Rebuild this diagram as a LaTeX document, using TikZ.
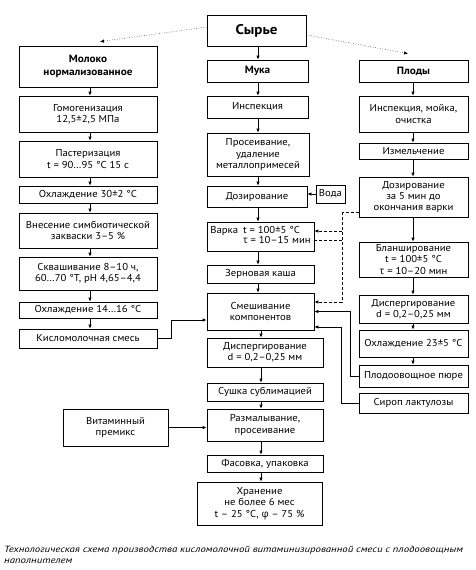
\documentclass[tikz,border=0pt]{standalone}
\usepackage{fontspec}
\setmainfont{PT Sans}[FakeStretch=1.07]
\newfontfamily\captionfont{PT Sans}[FakeStretch=1.2]
\newfontfamily\grk{Open Sans}
\usetikzlibrary{positioning,arrows.meta}
\tikzset{
    stage/.style={
        draw,
        line width=0.7pt,
        align=center,
        inner sep=1pt,
        font=\fontsize{10}{11.3}\selectfont
    },
    leftstage/.style={stage, minimum width=138pt},
    rightstage/.style={stage, minimum width=109pt},
    headstage/.style={font=\fontsize{10.5}{13}\selectfont\bfseries},
    arrow/.style={-{Latex[length=4pt,width=3.4pt]}, line width=0.7pt},
    dasharrow/.style={arrow, dash pattern=on 3pt off 2pt},
    dashline/.style={line width=0.7pt, dash pattern=on 3pt off 2pt},
    dotarrow/.style={-{Latex[length=4pt,width=3.4pt]}, line width=0.5pt, dotted},
    caption/.style={font=\captionfont\fontsize{9}{10.5}\selectfont\itshape, align=left, inner sep=0pt}
}

\begin{document}
\begin{tikzpicture}[x=1pt, y=-1pt]
\useasboundingbox (0,0) rectangle (476,570);

\coordinate (lx) at (90,0);
\coordinate (mx) at (258,0);
\coordinate (mxb) at (261,0);
\coordinate (rx) at (413,0);

\node[stage, minimum width=99pt, minimum height=31pt,
      font=\fontsize{14}{16}\selectfont\bfseries] (raw) at (256.5,30.5)
{Сырье};

% MILK
\node[leftstage, headstage, minimum height=41pt] (milk) at (88,66.5)
{Молоко\\нормализованное};

\node[leftstage, minimum height=36pt] (homog) at (88,114)
{Гомогенизация\\12,5±2,5 МПа};

\node[leftstage, minimum height=36pt] (past) at (88,159)
{Пастеризация\\t = 90…95 °С 15 с};

\node[leftstage, minimum height=17pt] (coolmilk) at (88,194.5)
{Охлаждение 30±2 °С};

\node[leftstage, minimum height=35pt] (starter) at (88,230.5)
{Внесение симбиотической\\закваски 3–5 \%};

\node[leftstage, minimum height=33pt] (ferment) at (88,273.5)
{Сквашивание 8–10 ч,\\60…70 °Т, рН 4,65–4,4};

\node[leftstage, minimum height=16pt] (coolmix) at (88,310)
{Охлаждение 14…16 °С};

\node[leftstage, minimum height=19pt] (sourmix) at (88,338.5)
{Кисломолочная смесь};

\draw[arrow] (milk.south -| lx) -- (homog.north -| lx);
\draw[arrow] (homog.south -| lx) -- (past.north -| lx);
\draw[arrow] (past.south -| lx) -- (coolmilk.north -| lx);
\draw[arrow] (coolmilk.south -| lx) -- (starter.north -| lx);
\draw[arrow] (starter.south -| lx) -- (ferment.north -| lx);
\draw[arrow] (ferment.south -| lx) -- (coolmix.north -| lx);
\draw[arrow] (coolmix.south -| lx) -- (sourmix.north -| lx);

% FLOUR
\node[stage, headstage, minimum width=101pt, minimum height=22pt] (flour) at (257.5,71)
{Мука};

\node[stage, minimum width=101pt, minimum height=22pt] (inspect) at (257.5,107)
{Инспекция};

\node[stage, minimum width=102pt, minimum height=43pt] (sieve) at (258,154.5)
{Просеивание,\\удаление\\металлопримесей};

\node[stage, minimum width=100pt, minimum height=21pt] (dose) at (257,196.5)
{Дозирование};

\node[stage, minimum width=29pt, minimum height=18pt] (water) at (330.5,194)
{Вода};

\node[stage, minimum width=107pt, minimum height=29pt] (boil) at (260.5,236.5)
{\begin{tabular}{@{}l@{\enspace}l@{}}Варка & t = 100±5 °С\\[-1.5pt] & {\grk τ} = 10–15 мин\end{tabular}};

\node[stage, minimum width=107pt, minimum height=18pt] (porridge) at (260.5,274)
{Зерновая каша};

\node[stage, minimum width=107pt, minimum height=37pt] (blend) at (260.5,311.5)
{Смешивание\\компонентов};

\node[stage, minimum width=116pt, minimum height=29pt] (disperse) at (265,352.5)
{Диспергирование\\d = 0,2–0,25 мм};

\node[stage, minimum width=116pt, minimum height=18pt] (dry) at (265,392)
{Сушка сублимацией};

\node[stage, minimum width=116pt, minimum height=32pt] (mill) at (265,425)
{Размалывание,\\просеивание};

\node[stage, minimum width=116pt, minimum height=17pt] (pack) at (265,463.5)
{Фасовка, упаковка};

\node[stage, minimum width=125pt, minimum height=43pt] (store) at (259.5,503.5)
{Хранение\\не более 6 мес\\t – 25 °С, {\grk φ} – 75 \%};

\node[stage, minimum width=105pt, minimum height=37pt] (premix) at (115.5,427.5)
{Витаминный\\премикс};

\draw[arrow] (raw.south -| mx) -- (flour.north -| mx);
\draw[arrow] (flour.south -| mx) -- (inspect.north -| mx);
\draw[arrow] (inspect.south -| mx) -- (sieve.north -| mx);
\draw[arrow] (sieve.south -| mx) -- (dose.north -| mx);
\draw[arrow] (dose.south -| mx) -- (boil.north -| mx);
\draw[arrow] (boil.south -| mx) -- (porridge.north -| mx);
\draw[arrow] (porridge.south -| mx) -- (blend.north -| mx);
\draw[arrow] (blend.south -| mxb) -- (disperse.north -| mxb);
\draw[arrow] (disperse.south -| mxb) -- (dry.north -| mxb);
\draw[arrow] (dry.south -| mxb) -- (mill.north -| mxb);
\draw[arrow] (mill.south -| mxb) -- (pack.north -| mxb);
\draw[arrow] (pack.south -| mxb) -- (store.north -| mxb);

\draw[arrow] (water.west) -- (water.west -| dose.east);
\draw[arrow] (premix.east) -- (premix.east -| mill.west);
\draw[arrow] (sourmix.east) -- ++(14,0) |- ([yshift=-8.5pt]blend.west);

% FRUIT
\node[rightstage, headstage, minimum height=22pt] (fruit) at (413.5,71)
{Плоды};

\node[rightstage, minimum height=36pt] (wash) at (413.5,114)
{Инспекция, мойка,\\очистка};

\node[rightstage, minimum height=16pt] (chop) at (413.5,151)
{Измельчение};

\node[rightstage, minimum height=40pt] (fdose) at (413.5,197)
{Дозирование\\за 5 мин до\\окончания варки};

\node[rightstage, minimum height=35pt] (blanch) at (413.5,259.5)
{Бланширование\\t = 100±5 °С\\{\grk τ} = 10–20 мин};

\node[rightstage, minimum height=28pt] (fdisperse) at (413.5,309)
{Диспергирование\\d = 0,2–0,25 мм};

\node[rightstage, minimum height=27pt] (fcool) at (413.5,343.5)
{Охлаждение 23±5 °С};

\node[rightstage, minimum height=22pt] (puree) at (413.5,376)
{Плодоовощное пюре};

\node[rightstage, minimum height=20pt] (syrup) at (413.5,403)
{Сироп лактулозы};

\draw[arrow] (fruit.south -| rx) -- (wash.north -| rx);
\draw[arrow] (wash.south -| rx) -- (chop.north -| rx);
\draw[arrow] (chop.south -| rx) -- (fdose.north -| rx);
\draw[arrow] (fdose.south -| rx) -- (blanch.north -| rx);
\draw[arrow] (blanch.south -| rx) -- (fdisperse.north -| rx);
\draw[arrow] (fdisperse.south -| rx) -- (fcool.north -| rx);
\draw[arrow] (fcool.south -| rx) -- (puree.north -| rx);

% RAW MATERIAL LINKS
\draw[dotarrow] ([yshift=3.5pt]raw.west) -- ([xshift=12pt,yshift=4pt]milk.north);
\draw[dotarrow] ([yshift=-4.5pt]raw.east) -- ([xshift=-5.5pt,yshift=6pt]fruit.north);

% DOSING DURING BOILING
\coordinate (bus) at (342,212);
\draw[dashline] ([yshift=-15pt]fdose.west) -- (bus);
\draw[dasharrow] (bus) |- ([yshift=9.5pt]blend.east);
\draw[dasharrow] ([yshift=5.5pt]boil.east -| bus) -- ([yshift=5.5pt]boil.east);
\draw[dashline] ([yshift=-3.5pt]boil.east) -- ([yshift=-3.5pt]boil.east -| bus);

% INTO BLENDING
\draw[arrow] (puree.west) -- ++(-8,0) |- (blend.east);
\draw[arrow] (syrup.west) -- ++(-17,0) |- ([yshift=-15.5pt]blend.east);

\node[caption, anchor=west] (title) at (4,555)
{Технологическая схема производства кисломолочной витаминизированной смеси с плодоовощным\\наполнителем};

\end{tikzpicture}
\end{document}
